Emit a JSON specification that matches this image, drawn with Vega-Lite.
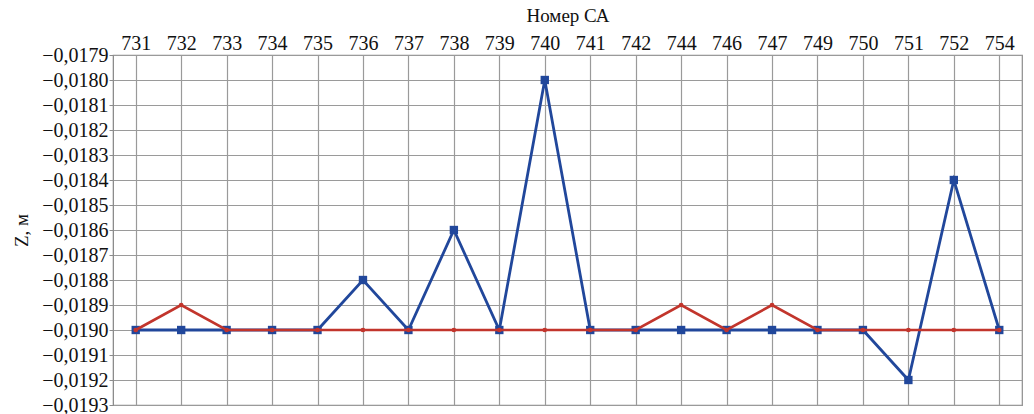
{
  "$schema": "https://vega.github.io/schema/vega-lite/v6.json",
  "autosize": "none",
  "width": 909,
  "height": 350,
  "padding": {"left": 113, "top": 55, "right": 12, "bottom": 9},
  "background": "white",
  "config": {
    "locale": {"number": {"decimal": ",", "thousands": " ", "grouping": [3], "currency": ["", ""], "minus": "\u2212"}},
    "view": {"stroke": "#8c8c8c", "strokeWidth": 1.2},
    "axis": {"gridColor": "#9a9a9a", "gridOpacity": 1, "gridWidth": 1.2, "domainColor": "#8c8c8c", "tickColor": "#8c8c8c", "labelFont": "Liberation Serif", "titleFont": "Liberation Serif", "labelColor": "#111", "titleColor": "#111", "titleFontWeight": "normal", "labelOverlap": false}
  },
  "data": {"values": [
    {"sa": "731", "s": "b", "z": -0.0190}, {"sa": "732", "s": "b", "z": -0.0190}, {"sa": "733", "s": "b", "z": -0.0190},
    {"sa": "734", "s": "b", "z": -0.0190}, {"sa": "735", "s": "b", "z": -0.0190}, {"sa": "736", "s": "b", "z": -0.0188},
    {"sa": "737", "s": "b", "z": -0.0190}, {"sa": "738", "s": "b", "z": -0.0186}, {"sa": "739", "s": "b", "z": -0.0190},
    {"sa": "740", "s": "b", "z": -0.0180}, {"sa": "741", "s": "b", "z": -0.0190}, {"sa": "742", "s": "b", "z": -0.0190},
    {"sa": "744", "s": "b", "z": -0.0190}, {"sa": "746", "s": "b", "z": -0.0190}, {"sa": "747", "s": "b", "z": -0.0190},
    {"sa": "749", "s": "b", "z": -0.0190}, {"sa": "750", "s": "b", "z": -0.0190}, {"sa": "751", "s": "b", "z": -0.0192},
    {"sa": "752", "s": "b", "z": -0.0184}, {"sa": "754", "s": "b", "z": -0.0190},
    {"sa": "731", "s": "r", "z": -0.0190}, {"sa": "732", "s": "r", "z": -0.0189}, {"sa": "733", "s": "r", "z": -0.0190},
    {"sa": "734", "s": "r", "z": -0.0190}, {"sa": "735", "s": "r", "z": -0.0190}, {"sa": "736", "s": "r", "z": -0.0190},
    {"sa": "737", "s": "r", "z": -0.0190}, {"sa": "738", "s": "r", "z": -0.0190}, {"sa": "739", "s": "r", "z": -0.0190},
    {"sa": "740", "s": "r", "z": -0.0190}, {"sa": "741", "s": "r", "z": -0.0190}, {"sa": "742", "s": "r", "z": -0.0190},
    {"sa": "744", "s": "r", "z": -0.0189}, {"sa": "746", "s": "r", "z": -0.0190}, {"sa": "747", "s": "r", "z": -0.0189},
    {"sa": "749", "s": "r", "z": -0.0190}, {"sa": "750", "s": "r", "z": -0.0190}, {"sa": "751", "s": "r", "z": -0.0190},
    {"sa": "752", "s": "r", "z": -0.0190}, {"sa": "754", "s": "r", "z": -0.0190}
  ]},
  "encoding": {
    "x": {"field": "sa", "type": "ordinal", "sort": null, "scale": {"type": "point", "padding": 0.5},
      "axis": {"orient": "top", "title": "Номер СА", "labelAngle": 0, "labelFontSize": 20, "titleFontSize": 19, "labelPadding": 2, "titlePadding": 8, "ticks": false, "domain": false, "grid": true}},
    "y": {"field": "z", "type": "quantitative",
      "scale": {"domain": [-0.0193, -0.0179], "nice": false, "zero": false},
      "axis": {"title": "Z, м", "values": [-0.0193, -0.0192, -0.0191, -0.0190, -0.0189, -0.0188, -0.0187, -0.0186, -0.0185, -0.0184, -0.0183, -0.0182, -0.0181, -0.0180, -0.0179],
        "format": ".4f", "labelFontSize": 20, "titleFontSize": 19, "tickSize": 4, "labelPadding": 1, "titlePadding": 10, "grid": true}}
  },
  "layer": [
    {"transform": [{"filter": "datum.s === 'b'"}], "mark": {"type": "line", "color": "#21479b", "strokeWidth": 2.8, "point": {"shape": "square", "size": 70, "color": "#21479b", "filled": true, "opacity": 1}}},
    {"transform": [{"filter": "datum.s === 'r'"}], "mark": {"type": "line", "color": "#c2352c", "strokeWidth": 2.6, "point": {"shape": "circle", "size": 22, "color": "#c2352c", "filled": true, "opacity": 1}}}
  ]
}
